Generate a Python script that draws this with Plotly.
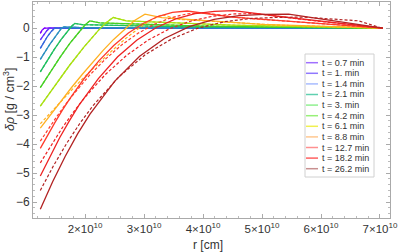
import plotly.graph_objects as go

# times (min) and labels
times = ["0.7", "1.", "1.4", "2.1", "3.", "4.2", "6.1", "8.8", "12.7", "18.2", "26.2"]
line_colors = ["#8000ff", "#6633ff", "#3366dd", "#2a8fc0", "#1fbf5f", "#44d022",
               "#a8e010", "#ffb020", "#ff3a2a", "#ee2222", "#b22222"]
legend_colors = ["#a070ff", "#9078ff", "#a8bcff", "#60d0b0", "#90f090", "#98f078",
                 "#f0f050", "#ffc890", "#ff9090", "#ff6060", "#c89090"]

# r in units of 1e10 cm, delta rho in g/cm^3 ; solid curves
r_solid = [
    [1.24, 1.27, 1.31, 7.05],
    [1.24, 1.30, 1.35, 1.40, 7.05],
    [1.24, 1.30, 1.36, 1.42, 1.485, 7.05],
    [1.24, 1.32, 1.40, 1.48, 1.56, 1.60, 1.64, 1.9, 7.05],
    [1.24, 1.357, 1.474, 1.591, 1.708, 1.767, 1.825, 1.95, 3.5, 7.05],
    [1.24, 1.408, 1.576, 1.744, 1.912, 1.996, 2.08, 2.25, 4.0, 7.05],
    [1.24, 1.487, 1.734, 1.982, 2.229, 2.352, 2.476, 2.7, 4.5, 7.05],
    [1.24, 1.329, 1.418, 1.506, 1.595, 1.773, 1.95, 2.128, 2.305, 2.483, 2.66, 2.838, 3.015, 3.3, 5.0, 7.05],
    [1.24, 1.365, 1.489, 1.614, 1.738, 1.987, 2.236, 2.485, 2.734, 2.983, 3.232, 3.481, 3.73, 4.5, 7.05],
    [1.24, 1.404, 1.568, 1.732, 1.896, 2.224, 2.552, 2.88, 3.208, 3.536, 3.864, 4.192, 4.52, 5.3, 7.05],
    [1.24, 1.451, 1.661, 1.872, 2.082, 2.503, 2.924, 3.345, 3.766, 4.187, 4.608, 5.029, 5.45, 7.05],
]
v_solid = [
    [-0.18, -0.07, 0, 0],
    [-0.41, -0.22, -0.09, 0, 0],
    [-0.70, -0.47, -0.29, -0.13, 0, 0],
    [-1.08, -0.80, -0.56, -0.34, -0.12, 0, 0.04, 0.02, 0],
    [-1.51, -1.12, -0.745, -0.40, -0.08, 0.055, 0.16, 0.12, 0.05, 0],
    [-2.05, -1.51, -1.00, -0.52, -0.08, 0.105, 0.25, 0.18, 0.07, 0],
    [-2.69, -1.97, -1.29, -0.65, -0.07, 0.18, 0.37, 0.25, 0.10, 0],
    [-3.45, -3.21, -2.97, -2.73, -2.50, -2.04, -1.60, -1.17, -0.77, -0.39, -0.05, 0.26, 0.48, 0.36, 0.13, 0],
    [-4.15, -3.69, -3.25, -2.83, -2.44, -1.73, -1.12, -0.60, -0.17, 0.16, 0.40, 0.54, 0.59, 0.38, 0],
    [-5.10, -4.42, -3.78, -3.20, -2.66, -1.74, -0.99, -0.41, 0.02, 0.32, 0.50, 0.58, 0.60, 0.40, 0],
    [-6.25, -5.29, -4.43, -3.65, -2.97, -1.83, -0.97, -0.36, 0.05, 0.30, 0.43, 0.47, 0.48, 0],
]
# dashed curves
r_dash = [
    [1.24, 1.27, 1.31, 7.05],
    [1.24, 1.30, 1.35, 1.40, 7.05],
    [1.24, 1.30, 1.36, 1.42, 1.485, 7.05],
    [1.24, 1.32, 1.40, 1.48, 1.56, 1.60, 1.64, 1.9, 7.05],
    [1.24, 1.357, 1.474, 1.591, 1.708, 1.767, 1.825, 1.95, 3.5, 7.05],
    [1.24, 1.408, 1.576, 1.744, 1.912, 1.996, 2.08, 2.25, 4.0, 7.05],
    [1.24, 1.487, 1.734, 1.982, 2.229, 2.352, 2.476, 2.7, 4.5, 7.05],
    [1.24, 1.343, 1.446, 1.549, 1.652, 1.858, 2.064, 2.27, 2.476, 2.682, 2.888, 3.094, 3.30, 3.6, 5.3, 7.05],
    [1.24, 1.378, 1.516, 1.654, 1.792, 2.068, 2.344, 2.62, 2.896, 3.172, 3.448, 3.724, 4.0, 4.6, 7.05],
    [1.24, 1.423, 1.606, 1.789, 1.972, 2.338, 2.704, 3.07, 3.436, 3.802, 4.168, 4.534, 4.9, 5.6, 7.05],
    [1.24, 1.463, 1.686, 1.909, 2.132, 2.578, 3.024, 3.47, 3.916, 4.362, 4.808, 5.254, 5.7, 6.64, 7.0, 7.05],
]
v_dash = [
    [-0.18, -0.07, 0, 0],
    [-0.41, -0.22, -0.09, 0, 0],
    [-0.70, -0.47, -0.29, -0.13, 0, 0],
    [-1.08, -0.80, -0.56, -0.34, -0.12, 0, 0.04, 0.02, 0],
    [-1.51, -1.12, -0.745, -0.40, -0.08, 0.055, 0.16, 0.12, 0.05, 0],
    [-2.05, -1.51, -1.00, -0.52, -0.08, 0.105, 0.25, 0.18, 0.07, 0],
    [-2.69, -1.97, -1.29, -0.65, -0.07, 0.18, 0.37, 0.25, 0.10, 0],
    [-3.30, -3.07, -2.84, -2.61, -2.39, -1.95, -1.53, -1.12, -0.74, -0.37, -0.04, 0.25, 0.46, 0.30, 0.10, 0],
    [-3.90, -3.47, -3.06, -2.67, -2.31, -1.64, -1.07, -0.58, -0.18, 0.13, 0.35, 0.49, 0.53, 0.36, 0],
    [-4.65, -4.03, -3.46, -2.93, -2.45, -1.61, -0.94, -0.41, -0.02, 0.25, 0.41, 0.49, 0.50, 0.32, 0],
    [-5.60, -4.75, -3.98, -3.29, -2.68, -1.67, -0.91, -0.37, 0.00, 0.22, 0.33, 0.37, 0.38, 0.25, 0.02, 0],
]

x_tickvals = [2, 3, 4, 5, 6, 7]
x_ticktext = [f"{v}×10<sup>10</sup>" for v in x_tickvals]
y_tickvals = [0, -1, -2, -3, -4, -5, -6]

FONT = "Liberation Sans, Arial, sans-serif"
fig = go.Figure()
for i in range(len(times)):
    fig.add_trace(go.Scatter(x=[r * 1e10 for r in r_dash[i]], y=v_dash[i], mode="lines",
                             line=dict(color=line_colors[i], width=1.2, dash="3px,2px"),
                             showlegend=False, hoverinfo="skip"))
    fig.add_trace(go.Scatter(x=[r * 1e10 for r in r_solid[i]], y=v_solid[i], mode="lines",
                             line=dict(color=line_colors[i], width=1.3),
                             showlegend=False, hoverinfo="skip"))

W, H = 403, 252
L, R, T, B = 33, 13, 2, 34
def px(x):
    return (x - L) / (W - L - R)
def py(y):
    return (H - B - y) / (H - T - B)

# legend box drawn manually (Mathematica style)
shapes = [dict(type="rect", xref="paper", yref="paper", x0=px(305), x1=px(374),
               y0=py(177), y1=py(54), line=dict(color="#d0d0d0", width=1),
               fillcolor="white", layer="above")]
annotations = []
for i, t in enumerate(times):
    yc = 62.7 + i * 10.6
    shapes.append(dict(type="line", xref="paper", yref="paper", x0=px(306), x1=px(318),
                       y0=py(yc), y1=py(yc), line=dict(color=legend_colors[i], width=1.5),
                       layer="above"))
    annotations.append(dict(xref="paper", yref="paper", x=px(320), y=py(yc), xanchor="left",
                            yanchor="middle", text=f"t = {t} min", showarrow=False,
                            font=dict(family=FONT, size=9, color="#333333")))
# axis titles
annotations.append(dict(xref="paper", yref="paper", x=px(208), y=py(245), xanchor="center",
                        yanchor="middle", text="r [cm]", showarrow=False,
                        font=dict(family=FONT, size=12, color="#333333")))
annotations.append(dict(xref="paper", yref="paper", x=px(9), y=py(100), xanchor="center",
                        yanchor="middle", text="<i>δρ</i> [g / cm<sup>3</sup>]", textangle=-90,
                        showarrow=False, font=dict(family=FONT, size=12.5, color="#333333")))

axis_common = dict(showline=True, mirror="ticks", linecolor="#aaaaaa", linewidth=1,
                   ticks="inside", ticklen=4, tickcolor="#aaaaaa", showgrid=False,
                   zeroline=False, automargin=False)
fig.update_layout(
    width=W, height=H, margin=dict(l=L, r=R, t=T, b=B),
    paper_bgcolor="white", plot_bgcolor="white",
    shapes=shapes, annotations=annotations, showlegend=False,
    xaxis=dict(range=[1.116e10, 7.17e10], tickvals=[v * 1e10 for v in x_tickvals],
               ticktext=x_ticktext,
               tickfont=dict(family=FONT, size=11.5, color="#333333"),
               minor=dict(dtick=0.2e10, ticks="inside", ticklen=2, tickcolor="#bbbbbb"),
               **axis_common),
    yaxis=dict(range=[-6.55, 0.9], tickvals=y_tickvals,
               ticktext=[str(v).replace("-", "−") for v in y_tickvals],
               tickfont=dict(family=FONT, size=12, color="#333333"),
               minor=dict(dtick=0.2, ticks="inside", ticklen=2, tickcolor="#bbbbbb"),
               **axis_common),
)
fig.write_html("out.html", config={"displayModeBar": False},
               post_script="document.body.style.margin='0';document.body.style.overflow='hidden';")
